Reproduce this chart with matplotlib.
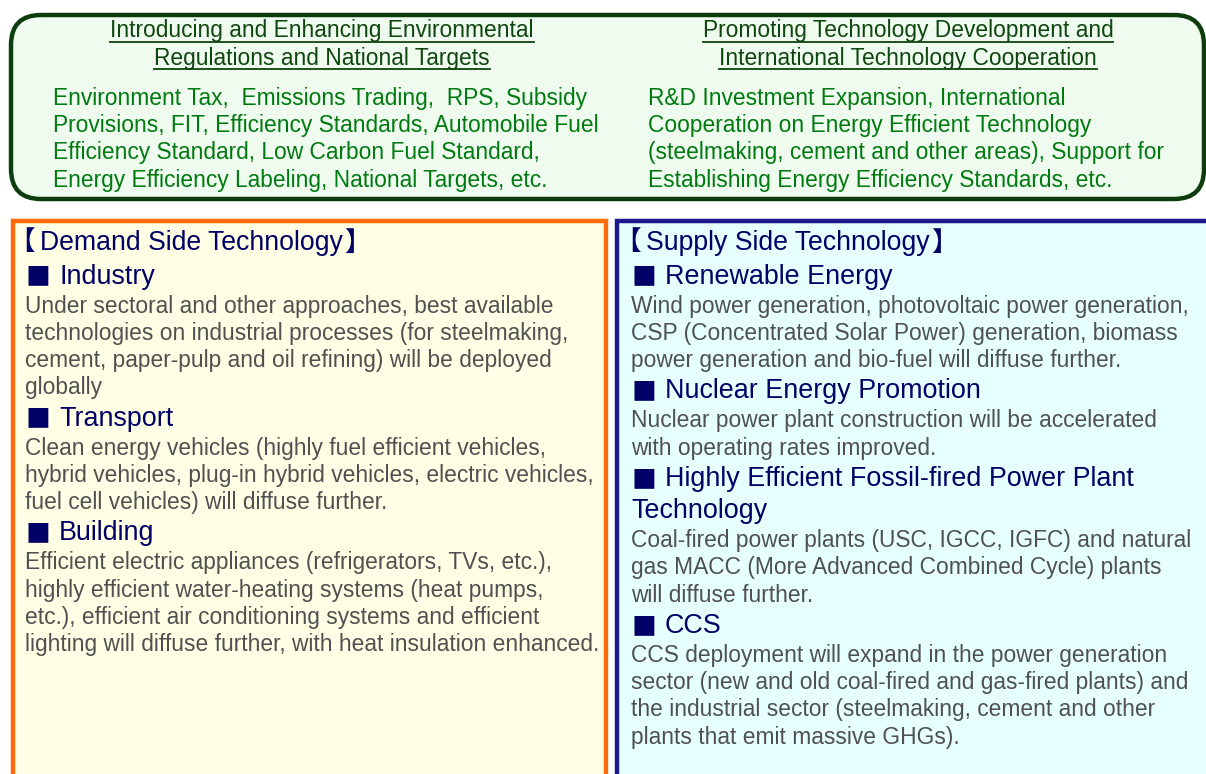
import matplotlib
matplotlib.use("Agg")
import matplotlib.pyplot as plt
from matplotlib.patches import FancyBboxPatch, Rectangle

FAM = ['Liberation Sans', 'Noto Sans CJK JP', 'DejaVu Sans']
CJK = ['Noto Sans CJK JP', 'DejaVu Sans']

top_left_header = ["Introducing and Enhancing Environmental",
                   "Regulations and National Targets"]
top_left_body = ["Environment Tax,  Emissions Trading,  RPS, Subsidy",
                 "Provisions, FIT, Efficiency Standards, Automobile Fuel",
                 "Efficiency Standard, Low Carbon Fuel Standard,",
                 "Energy Efficiency Labeling, National Targets, etc."]
top_right_header = ["Promoting Technology Development and",
                    "International Technology Cooperation"]
top_right_body = ["R&D Investment Expansion, International",
                  "Cooperation on Energy Efficient Technology",
                  "(steelmaking, cement and other areas), Support for",
                  "Establishing Energy Efficiency Standards, etc."]

# (kind, text): 'T' title, 'S' bulleted heading, 'H' heading continuation, 'B' body
demand_lines = [
    ("T", "Demand Side Technology"),
    ("S", "Industry"),
    ("B", "Under sectoral and other approaches, best available"),
    ("B", "technologies on industrial processes (for steelmaking,"),
    ("B", "cement, paper-pulp and oil refining) will be deployed"),
    ("B", "globally"),
    ("S", "Transport"),
    ("B", "Clean energy vehicles (highly fuel efficient vehicles,"),
    ("B", "hybrid vehicles, plug-in hybrid vehicles, electric vehicles,"),
    ("B", "fuel cell vehicles) will diffuse further."),
    ("S", "Building"),
    ("B", "Efficient electric appliances (refrigerators, TVs, etc.),"),
    ("B", "highly efficient water-heating systems (heat pumps,"),
    ("B", "etc.), efficient air conditioning systems and efficient"),
    ("B", "lighting will diffuse further, with heat insulation enhanced."),
]
supply_lines = [
    ("T", "Supply Side Technology"),
    ("S", "Renewable Energy"),
    ("B", "Wind power generation, photovoltaic power generation,"),
    ("B", "CSP (Concentrated Solar Power) generation, biomass"),
    ("B", "power generation and bio-fuel will diffuse further."),
    ("S", "Nuclear Energy Promotion"),
    ("B", "Nuclear power plant construction will be accelerated"),
    ("B", "with operating rates improved."),
    ("S", "Highly Efficient Fossil-fired Power Plant"),
    ("H", "Technology"),
    ("B", "Coal-fired power plants (USC, IGCC, IGFC) and natural"),
    ("B", "gas MACC (More Advanced Combined Cycle) plants"),
    ("B", "will diffuse further."),
    ("S", "CCS"),
    ("B", "CCS deployment will expand in the power generation"),
    ("B", "sector (new and old coal-fired and gas-fired plants) and"),
    ("B", "the industrial sector (steelmaking, cement and other"),
    ("B", "plants that emit massive GHGs)."),
]

W, H = 1206, 774
fig = plt.figure(figsize=(W / 100, H / 100), dpi=100)
ax = fig.add_axes([0, 0, 1, 1])
ax.set_xlim(0, W)
ax.set_ylim(H, 0)
ax.axis('off')

NAVY = '#000066'
GRAY = '#505050'
GREEN = '#007a10'
DKGREEN = '#0f450f'

# top rounded box
ax.add_patch(FancyBboxPatch((11, 15), 1193, 184, boxstyle="round,pad=0,rounding_size=30",
                            fc='#effbee', ec='#0d3d0d', lw=3.2, zorder=1))
# lower boxes
ax.add_patch(Rectangle((13, 221), 593, 600, fc='#ffffe6', ec='#ff6a0a', lw=3.2, zorder=1))
ax.add_patch(Rectangle((617, 221), 620, 600, fc='#e6ffff', ec='#1a1a8c', lw=3.2, zorder=1))

hdr_size = 16.4
body_top = 16.4
headers = []
for cx, lines in ((322, top_left_header), (908, top_right_header)):
    for i, s in enumerate(lines):
        t = ax.text(cx, 31 + 27.5 * i, s, ha='center', va='center', fontsize=hdr_size,
                    color=DKGREEN, family=FAM, zorder=3)
        headers.append(t)

for x0, lines in ((53, top_left_body), (648, top_right_body)):
    for i, s in enumerate(lines):
        ax.text(x0, 98 + 27.4 * i, s, ha='left', va='center', fontsize=body_top,
                color=GREEN, family=FAM, zorder=3)

BODY = 16.4
HEAD = 19.4
TITLE = 19.2
gap = {("T", "S"): 33.5, ("S", "B"): 29.5, ("H", "B"): 29.5, ("B", "B"): 27.2,
       ("B", "S"): 31.0, ("S", "H"): 32.0}


def draw_block(x0, y0, lines):
    y = y0
    prev = None
    for kind, s in lines:
        if prev is not None:
            y += gap[(prev, kind)]
        if kind == "T":
            ax.text(x0 - 17, y, "【", ha='left', va='center', fontsize=TITLE,
                    color=NAVY, family=CJK, zorder=3)
            t = ax.text(x0 + 15, y, s, ha='left', va='center', fontsize=TITLE,
                        color=NAVY, family=FAM, zorder=3)
            fig.canvas.draw()
            bb = t.get_window_extent(renderer=fig.canvas.get_renderer())
            xe = ax.transData.inverted().transform((bb.x1, bb.y0))[0]
            ax.text(xe + 1, y, "】", ha='left', va='center', fontsize=TITLE,
                    color=NAVY, family=CJK, zorder=3)
        elif kind == "S":
            ax.text(x0 + 1, y + 1, "■", ha='left', va='center', fontsize=HEAD * 0.92,
                    color=NAVY, family=CJK, zorder=3)
            ax.text(x0 + 34, y, s, ha='left', va='center', fontsize=HEAD,
                    color=NAVY, family=FAM, zorder=3)
        elif kind == "H":
            ax.text(x0, y, s, ha='left', va='center', fontsize=HEAD,
                    color=NAVY, family=FAM, zorder=3)
        else:
            ax.text(x0, y, s, ha='left', va='center', fontsize=BODY,
                    color=GRAY, family=FAM, zorder=3)
        prev = kind


draw_block(25, 243, demand_lines)
draw_block(631, 243, supply_lines)

# underline headers
fig.canvas.draw()
r = fig.canvas.get_renderer()
inv = ax.transData.inverted()
for t in headers:
    bb = t.get_window_extent(renderer=r)
    (xa, ya), (xb, yb) = inv.transform([(bb.x0, bb.y0), (bb.x1, bb.y0)])
    ax.plot([xa, xb], [ya - 1, ya - 1], color=DKGREEN, lw=1.3, zorder=3)

fig.savefig("out.png", dpi=100)
